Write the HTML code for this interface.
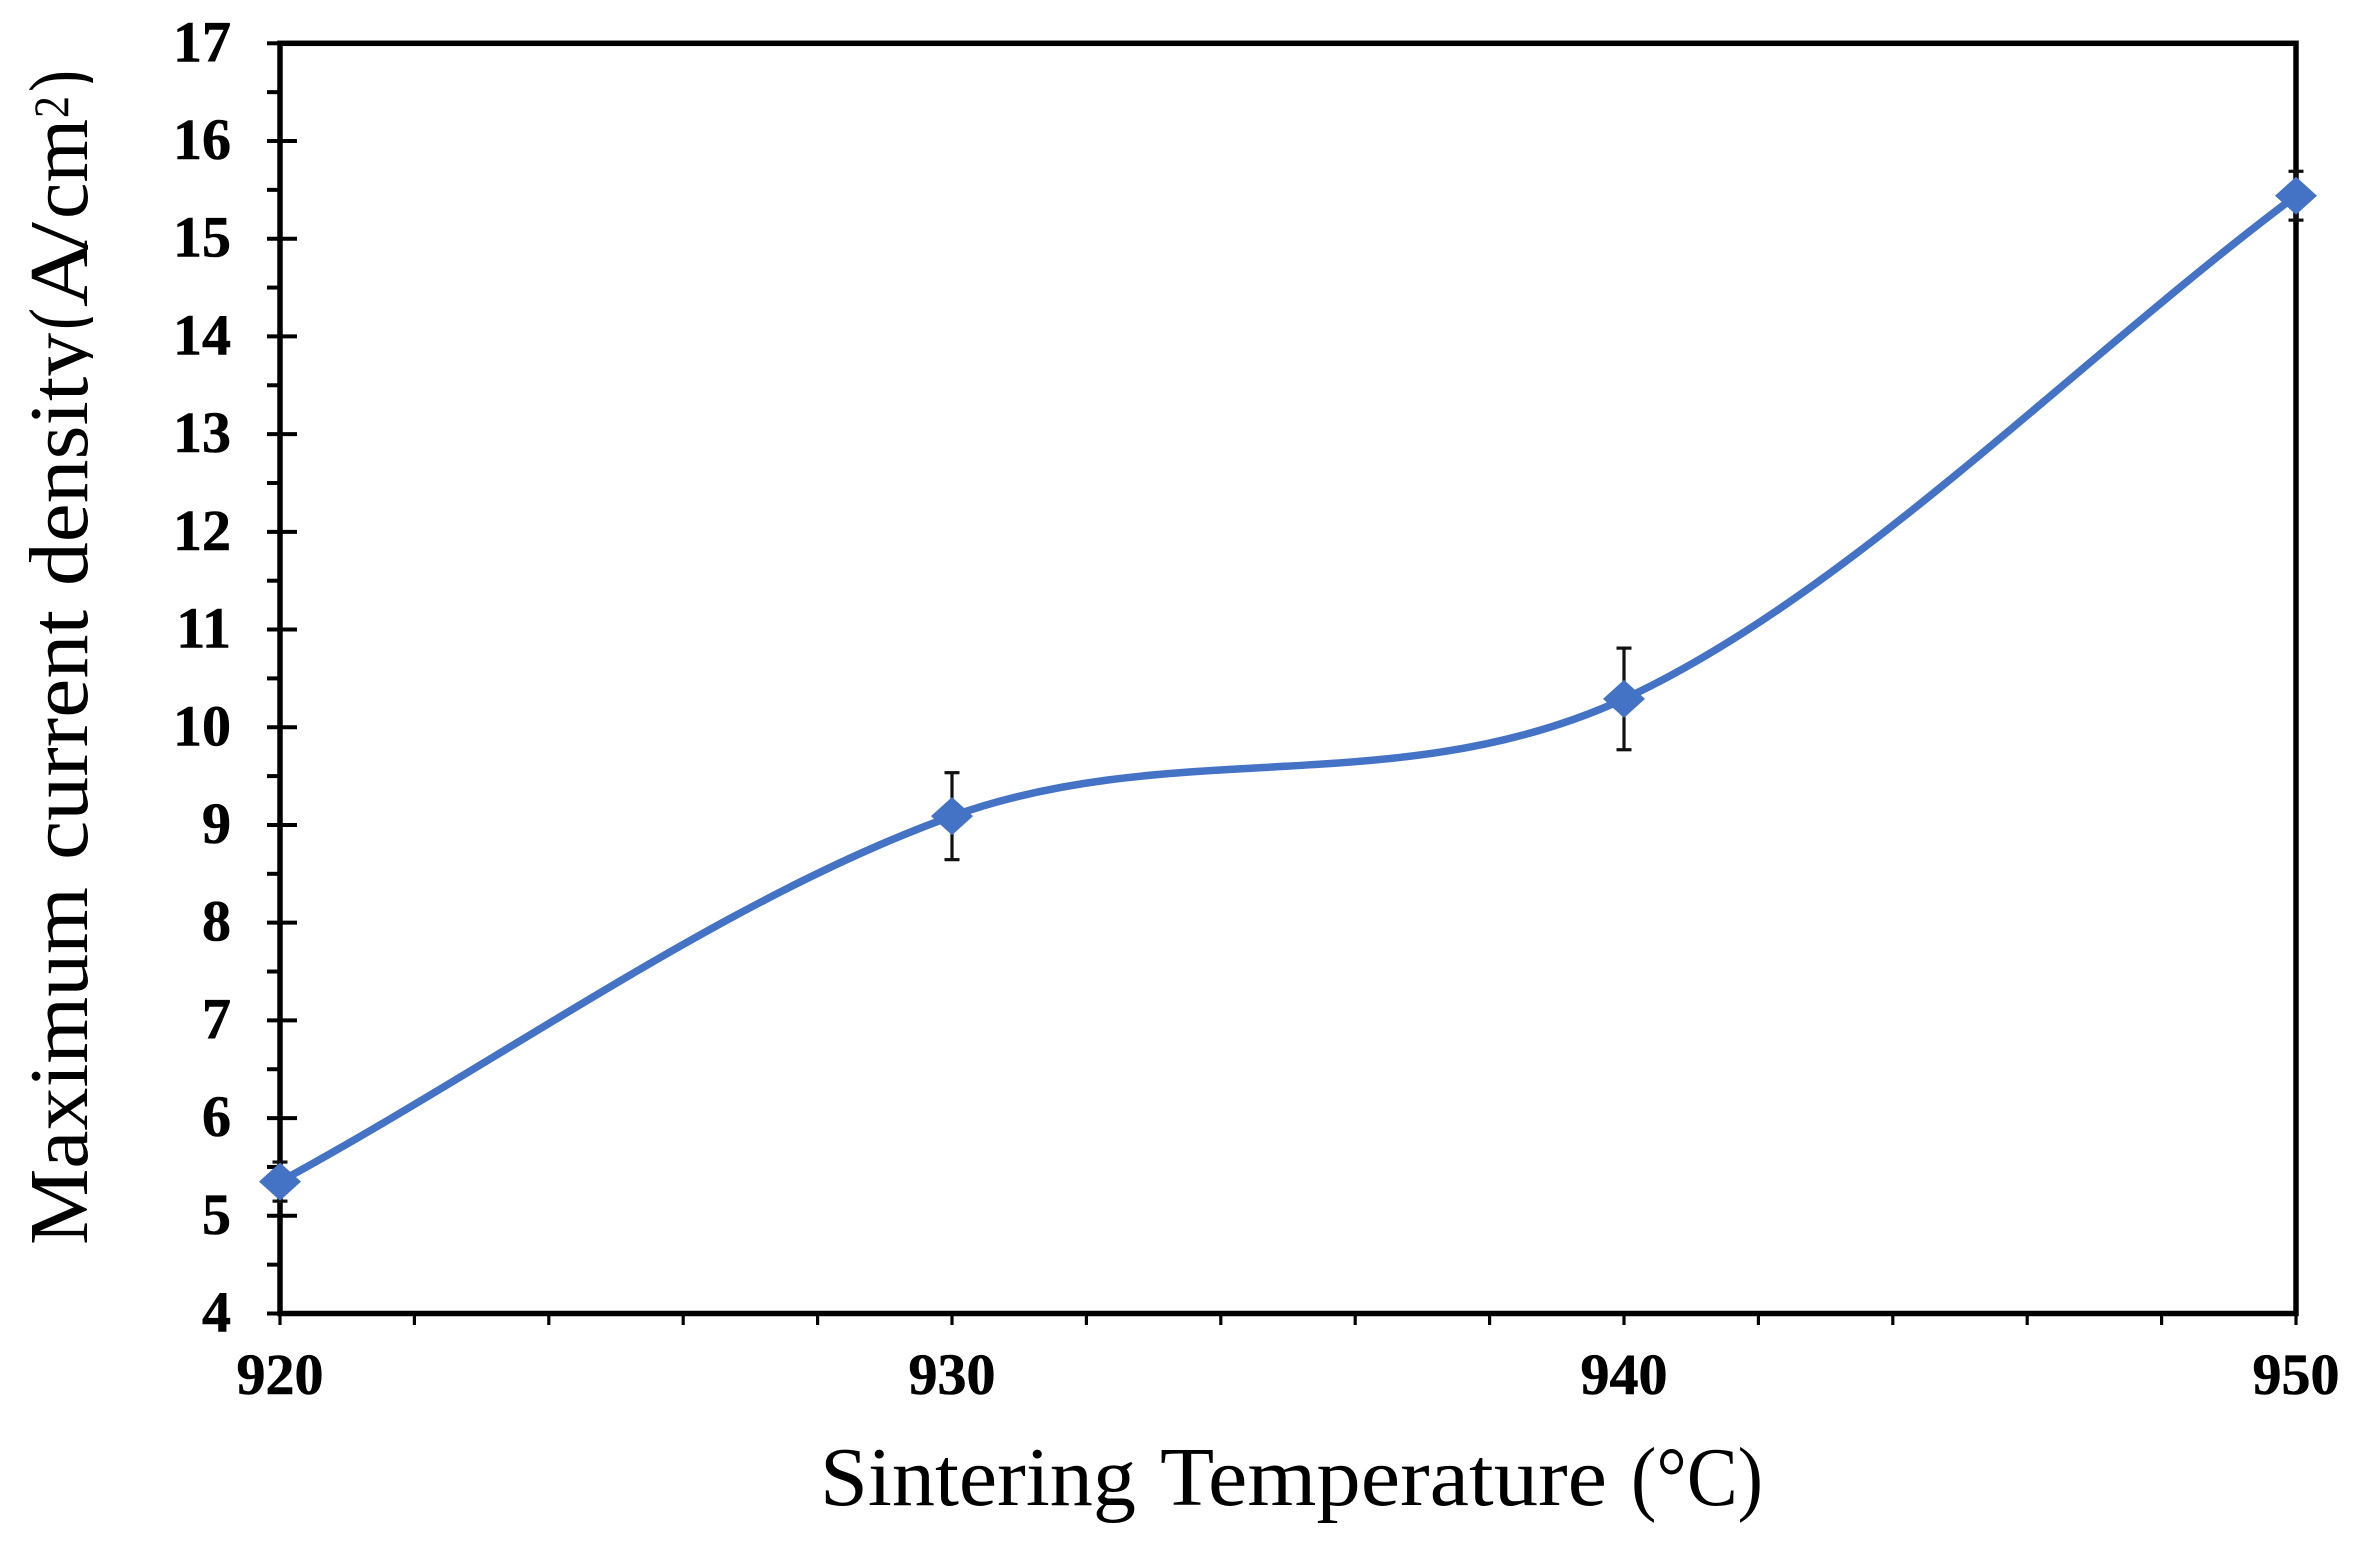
<!DOCTYPE html>
<html lang="en">
<head>
<meta charset="utf-8">
<title>Maximum current density vs sintering temperature</title>
<style>
html,body{margin:0;padding:0;background:#fff;}
svg{display:block;}
text{font-family:"Liberation Serif",serif;fill:#000;}
.tick-label{font-size:58px;font-weight:bold;stroke:#000;stroke-width:0.6px;}
.axis-title{font-size:84px;}
</style>
</head>
<body>
<svg id="chart" xmlns="http://www.w3.org/2000/svg" width="2357" height="1546" viewBox="0 0 2357 1546">
  <defs>
    <clipPath id="y-title-clip"><rect x="0" y="0" width="93" height="1546"></rect></clipPath>
  </defs>
  <rect x="0" y="0" width="2357" height="1546" fill="#ffffff"></rect>
  <g id="ticks"></g>
  <g id="labels"></g>
  <g id="frame"></g>
  <g id="errors"></g>
  <g id="series"></g>
  <g>
    <text class="axis-title" x="820" y="1505" textLength="316" lengthAdjust="spacingAndGlyphs">Sintering</text>
    <text class="axis-title" x="1160" y="1505" textLength="447" lengthAdjust="spacingAndGlyphs">Temperature</text>
    <text class="axis-title" x="1631" y="1505" textLength="132" lengthAdjust="spacingAndGlyphs">(°C)</text>
  </g>
  <g clip-path="url(#y-title-clip)">
    <g transform="translate(87,1245) rotate(-90)">
      <text class="axis-title" x="0" y="0" textLength="358" lengthAdjust="spacingAndGlyphs">Maximum</text>
      <text class="axis-title" x="385" y="0" textLength="250" lengthAdjust="spacingAndGlyphs">current</text>
      <text class="axis-title" x="659" y="0" textLength="253" lengthAdjust="spacingAndGlyphs">density</text>
      <text class="axis-title" x="915" y="0" textLength="22" lengthAdjust="spacingAndGlyphs">(</text>
      <text class="axis-title" x="938" y="0" textLength="67" lengthAdjust="spacingAndGlyphs">A</text>
      <text class="axis-title" x="995" y="0" textLength="28" lengthAdjust="spacingAndGlyphs">/</text>
      <text class="axis-title" x="1026" y="0" textLength="100" lengthAdjust="spacingAndGlyphs">cm</text>
      <text class="axis-title" style="font-size:50px" x="1127" y="-19" textLength="22" lengthAdjust="spacingAndGlyphs">2</text>
      <text class="axis-title" x="1153" y="0" textLength="22" lengthAdjust="spacingAndGlyphs">)</text>
    </g>
  </g>
</svg>
<script>
const temperatures = [920, 930, 940, 950];
const currentDensity = [5.35, 9.09, 10.29, 15.44];
const errorMargins = [0.2, 0.445, 0.52, 0.25];
const xMajorTicks = [920, 930, 940, 950];
const xMinorTicks = [922, 924, 926, 928, 932, 934, 936, 938, 942, 944, 946, 948];
const yMajorTicks = [4, 5, 6, 7, 8, 9, 10, 11, 12, 13, 14, 15, 16, 17];
const yMinorTicks = [4.5, 5.5, 6.5, 7.5, 8.5, 9.5, 10.5, 11.5, 12.5, 13.5, 14.5, 15.5, 16.5];

const NS = 'http://www.w3.org/2000/svg';
const plotLeft = 280, plotRight = 2296, plotTop = 43.3, plotBottom = 1313.5;
const xDomain = [920, 950], yDomain = [4, 17];
function xScale(v) { return plotLeft + (v - xDomain[0]) / (xDomain[1] - xDomain[0]) * (plotRight - plotLeft); }
function yScale(v) { return plotBottom - (v - yDomain[0]) / (yDomain[1] - yDomain[0]) * (plotBottom - plotTop); }

function makeLine(parent, x1, y1, x2, y2, width, color) {
  const l = document.createElementNS(NS, 'line');
  l.setAttribute('x1', x1);
  l.setAttribute('y1', y1);
  l.setAttribute('x2', x2);
  l.setAttribute('y2', y2);
  l.setAttribute('stroke', color);
  l.setAttribute('stroke-width', width);
  parent.appendChild(l);
  return l;
}
function makeLabel(parent, x, y, anchor, str) {
  const t = document.createElementNS(NS, 'text');
  t.setAttribute('class', 'tick-label');
  t.setAttribute('x', x);
  t.setAttribute('y', y);
  t.setAttribute('text-anchor', anchor);
  t.textContent = str;
  parent.appendChild(t);
  return t;
}

const ticksG = document.getElementById('ticks');
const labelsG = document.getElementById('labels');
const frameG = document.getElementById('frame');
const errorsG = document.getElementById('errors');
const seriesG = document.getElementById('series');

yMajorTicks.forEach(function (v) {
  const inner = (v === yDomain[0] || v === yDomain[1]) ? plotLeft : 297;
  const tick = makeLine(ticksG, 267, yScale(v), inner, yScale(v), 4, '#000');
  
  
  const lab = makeLabel(labelsG, 231, yScale(v) + 18, 'end', String(v));
  
  
});
yMinorTicks.forEach(function (v) {
  const tick = makeLine(ticksG, 267, yScale(v), plotLeft, yScale(v), 4, '#000');
  
  
});
xMajorTicks.forEach(function (v) {
  const tick = makeLine(ticksG, xScale(v), plotBottom, xScale(v), 1325, 3.2, '#000');
  
  
  const lab = makeLabel(labelsG, xScale(v), 1394, 'middle', String(v));
  
  
});
xMinorTicks.forEach(function (v) {
  const tick = makeLine(ticksG, xScale(v), plotBottom, xScale(v), 1325, 3.2, '#000');
  
  
});

const frame = document.createElementNS(NS, 'rect');


frame.setAttribute('x', plotLeft);
frame.setAttribute('y', plotTop);
frame.setAttribute('width', plotRight - plotLeft);
frame.setAttribute('height', plotBottom - plotTop);
frame.setAttribute('fill', 'none');
frame.setAttribute('stroke', '#000');
frame.setAttribute('stroke-width', 5.5);
frameG.appendChild(frame);

temperatures.forEach(function (t, i) {
  const x = xScale(t);
  const top = yScale(currentDensity[i] + errorMargins[i]);
  const bot = yScale(currentDensity[i] - errorMargins[i]);
  const stem = makeLine(errorsG, x, top, x, bot, 3.2, '#111');
  
  
  const capA = makeLine(errorsG, x - 7.5, top, x + 7.5, top, 3.2, '#111');
  
  
  const capB = makeLine(errorsG, x - 7.5, bot, x + 7.5, bot, 3.2, '#111');
  
  
});

function tangent(i) {
  const n = temperatures.length;
  const a = Math.max(0, i - 1), b = Math.min(n - 1, i + 1);
  return (yScale(currentDensity[b]) - yScale(currentDensity[a])) / (xScale(temperatures[b]) - xScale(temperatures[a]));
}
let d = 'M' + xScale(temperatures[0]) + ' ' + yScale(currentDensity[0]);
for (let i = 0; i < temperatures.length - 1; i++) {
  const x0 = xScale(temperatures[i]), x1 = xScale(temperatures[i + 1]);
  const y0 = yScale(currentDensity[i]), y1 = yScale(currentDensity[i + 1]);
  const h = (x1 - x0) / 3;
  d += ' C' + (x0 + h) + ' ' + (y0 + tangent(i) * h) + ' ' + (x1 - h) + ' ' + (y1 - tangent(i + 1) * h) + ' ' + x1 + ' ' + y1;
}
const curve = document.createElementNS(NS, 'path');


curve.setAttribute('d', d);
curve.setAttribute('fill', 'none');
curve.setAttribute('stroke', '#4472C4');
curve.setAttribute('stroke-width', 7.5);
seriesG.appendChild(curve);

temperatures.forEach(function (t, i) {
  const x = xScale(t), y = yScale(currentDensity[i]);
  const m = document.createElementNS(NS, 'polygon');
  
  
  m.setAttribute('points', (x - 21) + ',' + y + ' ' + x + ',' + (y - 19) + ' ' + (x + 21) + ',' + y + ' ' + x + ',' + (y + 19));
  m.setAttribute('fill', '#4472C4');
  seriesG.appendChild(m);
});
</script>
</body>
</html>
